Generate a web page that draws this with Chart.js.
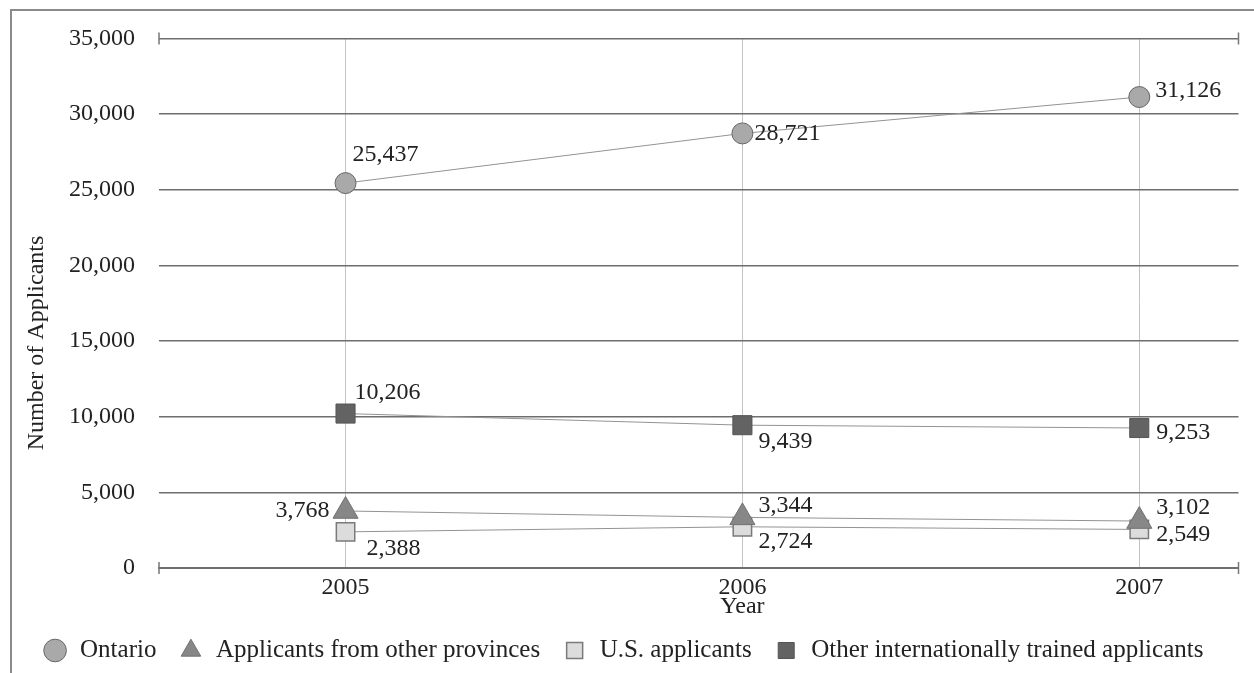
<!DOCTYPE html>
<html lang="en">
<head>
  <meta charset="UTF-8">
  <title>Number of Applicants by Year</title>
  <script src="https://cdn.jsdelivr.net/npm/chart.js"></script>
  <style>
    html, body {
      margin: 0;
      padding: 0;
      background: #fff;
    }
    #wrap {
      width: 1254px;
      height: 673px;
      position: relative;
    }
  </style>
</head>
<body>
  <div id="wrap"><canvas id="chart"></canvas></div>

  <script>
    // values
    const years = [2005, 2006, 2007];
    const ontario = [25437, 28721, 31126];
    const otherProvinces = [3768, 3344, 3102];
    const usApplicants = [2388, 2724, 2549];
    const otherIntl = [10206, 9439, 9253];
    const yTickValues = [0, 5000, 10000, 15000, 20000, 25000, 30000, 35000];

    // where each value label sits relative to its point: [dx, dy, align]
    const labelPlace = [
      [[7, -28, 'left'], [12, 0, 'left'], [16, -6, 'left']],
      [[-16, 0, 'right'], [16, -12, 'left'], [17, -13, 'left']],
      [[21, 17, 'left'], [16, 15, 'left'], [17, 5, 'left']],
      [[9, -21, 'left'], [16, 17, 'left'], [17, 5, 'left']]
    ];

    const FONT = "'Liberation Serif', 'DejaVu Serif', serif";
    const TEXT = '#222';

    const toPoints = vals => years.map((yr, i) => ({ x: yr, y: vals[i] }));

    const valueLabels = {
      id: 'valueLabels',
      afterDatasetsDraw(chart) {
        const ctx = chart.ctx;
        ctx.save();
        ctx.font = '24px ' + FONT;
        ctx.fillStyle = TEXT;
        ctx.textBaseline = 'middle';
        chart.data.datasets.forEach((ds, di) => {
          const meta = chart.getDatasetMeta(di);
          meta.data.forEach((pt, i) => {
            const [dx, dy, align] = labelPlace[di][i];
            ctx.textAlign = align;
            ctx.fillText(ds.data[i].y.toLocaleString('en-US'), pt.x + dx, pt.y + dy);
          });
        });
        ctx.restore();
      }
    };

    // frame, axis end caps and the two axis titles
    const decorations = {
      id: 'decorations',
      beforeDraw(chart) {
        const ctx = chart.ctx;
        ctx.save();
        ctx.strokeStyle = '#8a8a8a';
        ctx.lineWidth = 2;
        ctx.beginPath();
        ctx.moveTo(11, chart.height);
        ctx.lineTo(11, 10);
        ctx.lineTo(chart.width, 10);
        ctx.stroke();
        ctx.restore();
      },
      afterDraw(chart) {
        const ctx = chart.ctx;
        const a = chart.chartArea;
        const x = chart.scales.x;
        ctx.save();
        ctx.strokeStyle = '#777';
        ctx.lineWidth = 1.5;
        ctx.beginPath();
        [a.top, a.bottom].forEach(yy => {
          ctx.moveTo(a.left, yy - 6); ctx.lineTo(a.left, yy + 6);
          ctx.moveTo(a.right, yy - 6); ctx.lineTo(a.right, yy + 6);
        });
        ctx.stroke();

        ctx.fillStyle = TEXT;
        ctx.font = '24px ' + FONT;
        ctx.textAlign = 'center';
        ctx.textBaseline = 'middle';
        ctx.fillText('Year', x.getPixelForValue(2006), a.bottom + 39);

        ctx.translate(37, 343);
        ctx.rotate(-Math.PI / 2);
        ctx.fillText('Number of Applicants', 0, 0);
        ctx.restore();
      }
    };

    new Chart(document.getElementById('chart'), {
      type: 'line',
      data: {
        datasets: [
          {
            label: 'Ontario',
            data: toPoints(ontario),
            borderColor: '#939393',
            borderWidth: 1,
            pointStyle: 'circle',
            pointRadius: 10.5,
            pointBackgroundColor: '#a9a9a9',
            pointBorderColor: '#666',
            pointBorderWidth: 1,
            backgroundColor: '#a9a9a9'
          },
          {
            label: 'Applicants from other provinces',
            data: toPoints(otherProvinces),
            borderColor: '#939393',
            borderWidth: 1,
            pointStyle: 'triangle',
            pointRadius: 14.5,
            pointBackgroundColor: '#878787',
            pointBorderColor: '#707070',
            pointBorderWidth: 1,
            backgroundColor: '#878787'
          },
          {
            label: 'U.S. applicants',
            data: toPoints(usApplicants),
            borderColor: '#939393',
            borderWidth: 1,
            pointStyle: 'rect',
            pointRadius: 13,
            pointBackgroundColor: '#dcdcdc',
            pointBorderColor: '#7a7a7a',
            pointBorderWidth: 1.5,
            backgroundColor: '#dcdcdc'
          },
          {
            label: 'Other internationally trained applicants',
            data: toPoints(otherIntl),
            borderColor: '#939393',
            borderWidth: 1,
            pointStyle: 'rect',
            pointRadius: 13.5,
            pointBackgroundColor: '#636363',
            pointBorderColor: '#555',
            pointBorderWidth: 1,
            backgroundColor: '#636363'
          }
        ]
      },
      options: {
        responsive: true,
        maintainAspectRatio: false,
        animation: false,
        layout: { padding: { top: 38, right: 8, left: 0, bottom: 0 } },
        plugins: {
          tooltip: { enabled: false },
          legend: {
            position: 'bottom',
            labels: {
              usePointStyle: true,
              boxHeight: 16,
              padding: 22,
              color: TEXT,
              font: { family: FONT, size: 25 }
            }
          }
        },
        scales: {
          x: {
            type: 'linear',
            min: 2004.53,
            max: 2007.25,
            afterBuildTicks: s => { s.ticks = years.map(v => ({ value: v })); },
            afterFit: s => { s.height = 48; },
            grid: { color: '#c4c4c4', lineWidth: 1, drawTicks: false },
            border: { display: true, color: '#6e6e6e', width: 2 },
            ticks: {
              padding: 5,
              color: TEXT,
              font: { family: FONT, size: 24 },
              callback: v => String(v)
            }
          },
          y: {
            min: 0,
            max: 35000,
            afterBuildTicks: s => { s.ticks = yTickValues.map(v => ({ value: v })); },
            afterFit: s => { s.width = 159; },
            grid: { color: '#6e6e6e', lineWidth: 1.5, drawTicks: false },
            border: { display: false },
            ticks: {
              padding: 24,
              color: TEXT,
              font: { family: FONT, size: 24 },
              callback: v => v.toLocaleString('en-US')
            }
          }
        }
      },
      plugins: [decorations, valueLabels]
    });
  </script>
</body>
</html>
